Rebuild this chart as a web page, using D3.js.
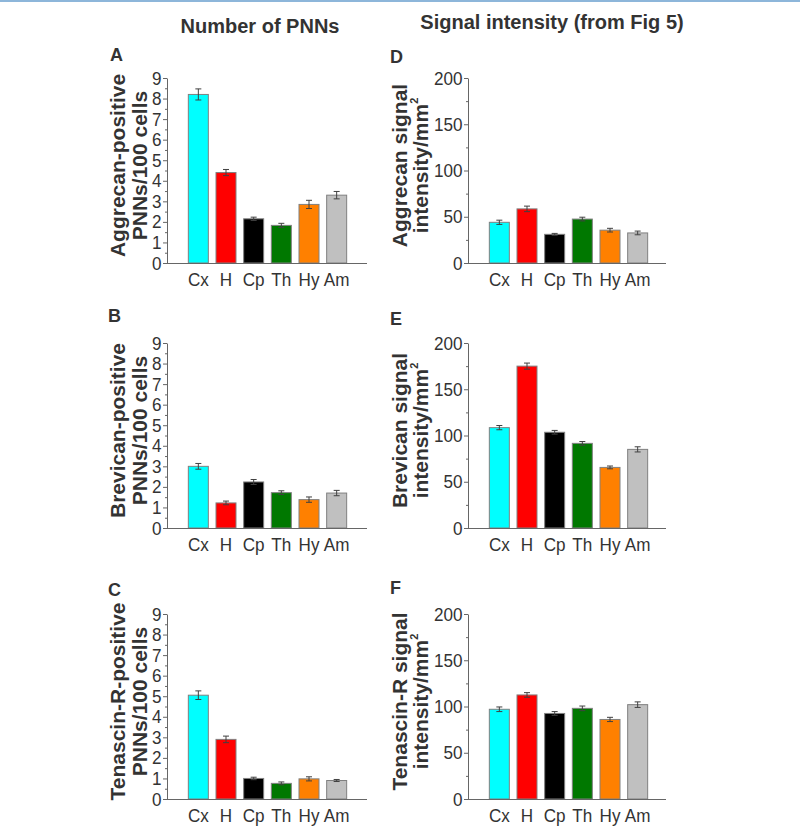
<!DOCTYPE html>
<html>
<head>
<meta charset="utf-8">
<script src="https://cdnjs.cloudflare.com/ajax/libs/d3/7.8.5/d3.min.js"></script>
<style>
  body { margin: 0; background: #fff; }
  svg { display: block; font-family: "Liberation Sans", Arial, sans-serif; }
</style>
</head>
<body>
<div id="chart"></div>
<script>
// Brain regions (x categories)
const regions = ['Cx', 'H', 'Cp', 'Th', 'Hy', 'Am'];
const barColors = ['#00ffff', '#ff0000', '#000000', '#007800', '#ff8000', '#c0c0c0'];

// Number of PNNs per 100 cells (mean, sem)
const aggrecanPNN = [8.2, 4.4, 2.15, 1.83, 2.85, 3.3];
const aggrecanPNNErr = [0.27, 0.15, 0.08, 0.1, 0.2, 0.18];
const brevicanPNN = [3.0, 1.22, 2.24, 1.72, 1.38, 1.7];
const brevicanPNNErr = [0.14, 0.09, 0.12, 0.09, 0.13, 0.13];
const tenascinPNN = [5.05, 2.9, 1.0, 0.76, 0.98, 0.9];
const tenascinPNNErr = [0.21, 0.16, 0.06, 0.07, 0.1, 0.05];

// Signal intensity per mm2 (mean, sem)
const aggrecanSig = [44, 58.5, 31, 47.5, 35.5, 32.5];
const aggrecanSigErr = [2.3, 3, 1, 2, 2, 2];
const brevicanSig = [108.5, 175, 103.5, 91.5, 65.5, 85];
const brevicanSigErr = [2.3, 3.3, 2, 2, 1.5, 2.8];
const tenascinSig = [97, 112.5, 92.5, 98, 86, 102];
const tenascinSigErr = [2.5, 2.5, 2, 2.5, 2.3, 3];

// Axis ticks
const pnnTicks = [0, 1, 2, 3, 4, 5, 6, 7, 8, 9];
const sigTicks = [0, 50, 100, 150, 200];

const columnTitles = ['Number of PNNs', 'Signal intensity (from Fig 5)'];

const W = 800, H = 827;
const TEXT = '#333333';
const AXIS = '#666666';

const svg = d3.select('#chart').append('svg')
  .attr('width', W)
  .attr('height', H);

// thin blue rule at the very top
svg.append('line')
  .attr('x1', 0).attr('x2', W)
  .attr('y1', 1).attr('y2', 1)
  .attr('stroke', '#8db6da')
  .attr('stroke-width', 2);

svg.append('text')
  .attr('x', 260).attr('y', 33)
  .attr('text-anchor', 'middle')
  .attr('font-size', 20).attr('font-weight', 'bold')
  .attr('fill', TEXT)
  .text(columnTitles[0]);

svg.append('text')
  .attr('x', 552).attr('y', 29)
  .attr('text-anchor', 'middle')
  .attr('font-size', 20).attr('font-weight', 'bold')
  .attr('fill', TEXT)
  .text(columnTitles[1]);

const rowTops = [78, 343, 614];
const plotH = 185;

const panels = [
  {letter: 'A', lx: 110, ly: 61, x: 167, w: 200, row: 0, values: aggrecanPNN, errs: aggrecanPNNErr,
   ticks: pnnTicks, labels: ['Aggrecan-positive', 'PNNs/100 cells'], labX: [125, 147], sup: false},
  {letter: 'B', lx: 108, ly: 322, x: 167, w: 200, row: 1, values: brevicanPNN, errs: brevicanPNNErr,
   ticks: pnnTicks, labels: ['Brevican-positive', 'PNNs/100 cells'], labX: [125, 147], sup: false},
  {letter: 'C', lx: 108, ly: 596, x: 167, w: 200, row: 2, values: tenascinPNN, errs: tenascinPNNErr,
   ticks: pnnTicks, labels: ['Tenascin-R-positive', 'PNNs/100 cells'], labX: [125, 147], sup: false},
  {letter: 'D', lx: 390, ly: 63, x: 468, w: 198, row: 0, values: aggrecanSig, errs: aggrecanSigErr,
   ticks: sigTicks, labels: ['Aggrecan signal', 'intensity/mm'], labX: [407, 428], sup: true},
  {letter: 'E', lx: 390, ly: 325, x: 468, w: 198, row: 1, values: brevicanSig, errs: brevicanSigErr,
   ticks: sigTicks, labels: ['Brevican signal', 'intensity/mm'], labX: [407, 428], sup: true},
  {letter: 'F', lx: 390, ly: 594, x: 468, w: 198, row: 2, values: tenascinSig, errs: tenascinSigErr,
   ticks: sigTicks, labels: ['Tenascin-R signal', 'intensity/mm'], labX: [407, 428], sup: true}
];

panels.forEach(drawPanel);

function drawPanel(p) {
  const top = rowTops[p.row];
  const data = regions.map((r, i) => ({region: r, value: p.values[i], err: p.errs[i], color: barColors[i]}));

  svg.append('text')
    .attr('x', p.lx).attr('y', p.ly)
    .attr('font-size', 18).attr('font-weight', 'bold')
    .attr('fill', TEXT)
    .text(p.letter);

  const g = svg.append('g')
    .attr('transform', `translate(${p.x}, ${top})`);

  const maxV = p.ticks[p.ticks.length - 1];
  const y = d3.scaleLinear().domain([0, maxV]).range([plotH, 0]);
  const x = d3.scaleBand()
    .domain(regions)
    .range([17.5, 183.5])
    .paddingInner(0.277)
    .paddingOuter(0.1385);

  // Bars
  g.selectAll('.bar')
    .data(data)
    .enter()
    .append('rect')
    .attr('class', 'bar')
    .attr('x', d => x(d.region))
    .attr('width', x.bandwidth())
    .attr('y', d => y(d.value))
    .attr('height', d => plotH - y(d.value))
    .attr('fill', d => d.color)
    .attr('stroke', '#808080')
    .attr('stroke-width', 1);

  // Error bars
  const eb = g.append('g').attr('stroke', '#404040').attr('stroke-width', 1);
  eb.selectAll('.ev')
    .data(data)
    .enter()
    .append('line')
    .attr('x1', d => x(d.region) + x.bandwidth() / 2)
    .attr('x2', d => x(d.region) + x.bandwidth() / 2)
    .attr('y1', d => y(d.value - d.err))
    .attr('y2', d => y(d.value + d.err));
  ['lo', 'hi'].forEach(k => {
    eb.selectAll('.cap' + k)
      .data(data)
      .enter()
      .append('line')
      .attr('x1', d => x(d.region) + x.bandwidth() / 2 - 3)
      .attr('x2', d => x(d.region) + x.bandwidth() / 2 + 3)
      .attr('y1', d => y(k === 'lo' ? d.value - d.err : d.value + d.err))
      .attr('y2', d => y(k === 'lo' ? d.value - d.err : d.value + d.err));
  });

  // Y axis
  const yAxis = g.append('g')
    .call(d3.axisLeft(y).tickValues(p.ticks).tickSize(4).tickSizeOuter(0).tickPadding(2));
  const step = p.ticks[1] - p.ticks[0];
  const minor = p.ticks.slice(1).map(t => t - step / 2);
  g.append('g')
    .call(d3.axisLeft(y).tickValues(minor).tickSize(2).tickFormat(''))
    .call(a => a.select('.domain').remove());

  // X axis
  g.append('line')
    .attr('x1', 0).attr('x2', p.w)
    .attr('y1', plotH + 0.5).attr('y2', plotH + 0.5)
    .attr('stroke', AXIS);
  const xAxis = g.append('g')
    .attr('transform', `translate(0, ${plotH})`)
    .call(d3.axisBottom(x).tickSize(0).tickPadding(10));
  xAxis.select('.domain').remove();

  // tick text is slightly condensed in the original
  [yAxis, xAxis].forEach(a => {
    a.selectAll('text')
      .attr('font-size', 19)
      .attr('font-family', '"Liberation Sans", Arial, sans-serif')
      .attr('fill', TEXT)
      .attr('transform', 'scale(0.9, 1)');
  });
  g.selectAll('.domain, .tick line').attr('stroke', AXIS);

  // Rotated y label, two lines
  const cy = top + plotH / 2 - 5;
  p.labels.forEach((lab, i) => {
    const t = svg.append('text')
      .attr('transform', `translate(${p.labX[i]}, ${cy}) rotate(-90)`)
      .attr('text-anchor', 'middle')
      .attr('font-size', 21).attr('font-weight', 'bold')
      .attr('fill', TEXT);
    t.append('tspan').text(lab);
    if (p.sup && i === 1) {
      t.append('tspan')
        .attr('font-size', 11)
        .attr('dy', -10)
        .text('2');
    }
  });
}
</script>
</body>
</html>
